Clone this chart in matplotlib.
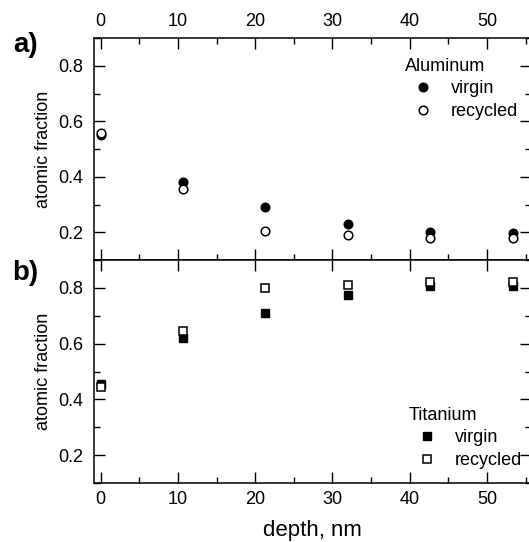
import matplotlib
matplotlib.use('Agg')
import matplotlib.pyplot as plt
from matplotlib.ticker import MultipleLocator

plt.rcParams['font.family'] = ['Liberation Sans', 'DejaVu Sans']

# depth (nm) and atomic fractions
depth = [0, 10.67, 21.33, 32, 42.67, 53.33]
al_virgin = [0.550, 0.381, 0.290, 0.229, 0.200, 0.198]
al_recycled = [0.557, 0.357, 0.205, 0.190, 0.179, 0.181]
ti_virgin = [0.455, 0.621, 0.710, 0.774, 0.806, 0.806]
ti_recycled = [0.443, 0.645, 0.798, 0.812, 0.822, 0.822]

W, H = 529, 542
fig = plt.figure(figsize=(W / 100, H / 100), dpi=100)
left, right = 94, 531
ax_a = fig.add_axes([left / W, (H - 260) / H, (right - left) / W, 222 / H])
ax_b = fig.add_axes([left / W, (H - 483) / H, (right - left) / W, 223 / H])

ms = 6.2
ax_a.plot(depth, al_virgin, 'o', color='black', ms=ms, mec='black', mew=1, label='virgin')
ax_a.plot(depth, al_recycled, 'o', mfc='white', mec='black', ms=ms, mew=1.1, label='recycled')
ax_b.plot(depth, ti_virgin, 's', color='black', ms=ms - 0.4, mec='black', mew=1, label='virgin')
ax_b.plot(depth, ti_recycled, 's', mfc='white', mec='black', ms=ms - 0.4, mew=1.1, label='recycled')

for ax in (ax_a, ax_b):
    ax.set_xlim(-0.87, 55.7)
    ax.set_ylim(0.1, 0.9)
    ax.xaxis.set_major_locator(MultipleLocator(10))
    ax.xaxis.set_minor_locator(MultipleLocator(5))
    ax.yaxis.set_major_locator(MultipleLocator(0.2))
    ax.yaxis.set_minor_locator(MultipleLocator(0.1))
    ax.tick_params(which='both', direction='in', top=True, right=True, width=1)
    ax.tick_params(which='major', length=8, labelsize=13, pad=6)
    ax.tick_params(which='minor', length=4)
    ax.tick_params(axis='y', pad=8)
    for s in ax.spines.values():
        s.set_linewidth(1.1)
    ax.set_ylabel('atomic fraction', fontsize=13, labelpad=4)

ax_a.tick_params(labeltop=True, labelbottom=False)
ax_b.tick_params(which='minor', top=False)
ax_b.set_xlabel('depth, nm', fontsize=16, labelpad=8.5)

ax_a.legend(title='Aluminum', alignment='left', frameon=False, fontsize=13, title_fontsize=13,
            loc='upper left', bbox_to_anchor=(405 / W, 1 - 58 / H), bbox_transform=fig.transFigure,
            borderpad=0, borderaxespad=0, handlelength=2.0, handletextpad=0.55, labelspacing=0.3)
ax_b.legend(title='Titanium', alignment='left', frameon=False, fontsize=13, title_fontsize=13,
            loc='upper left', bbox_to_anchor=(409 / W, 1 - 407 / H), bbox_transform=fig.transFigure,
            borderpad=0, borderaxespad=0, handlelength=2.0, handletextpad=0.55, labelspacing=0.3)

fig.text(13 / W, 1 - 45 / H, 'a)', fontsize=20, fontweight='bold', ha='left', va='center')
fig.text(12 / W, 1 - 273 / H, 'b)', fontsize=20, fontweight='bold', ha='left', va='center')

fig.savefig('out.png', dpi=100)
